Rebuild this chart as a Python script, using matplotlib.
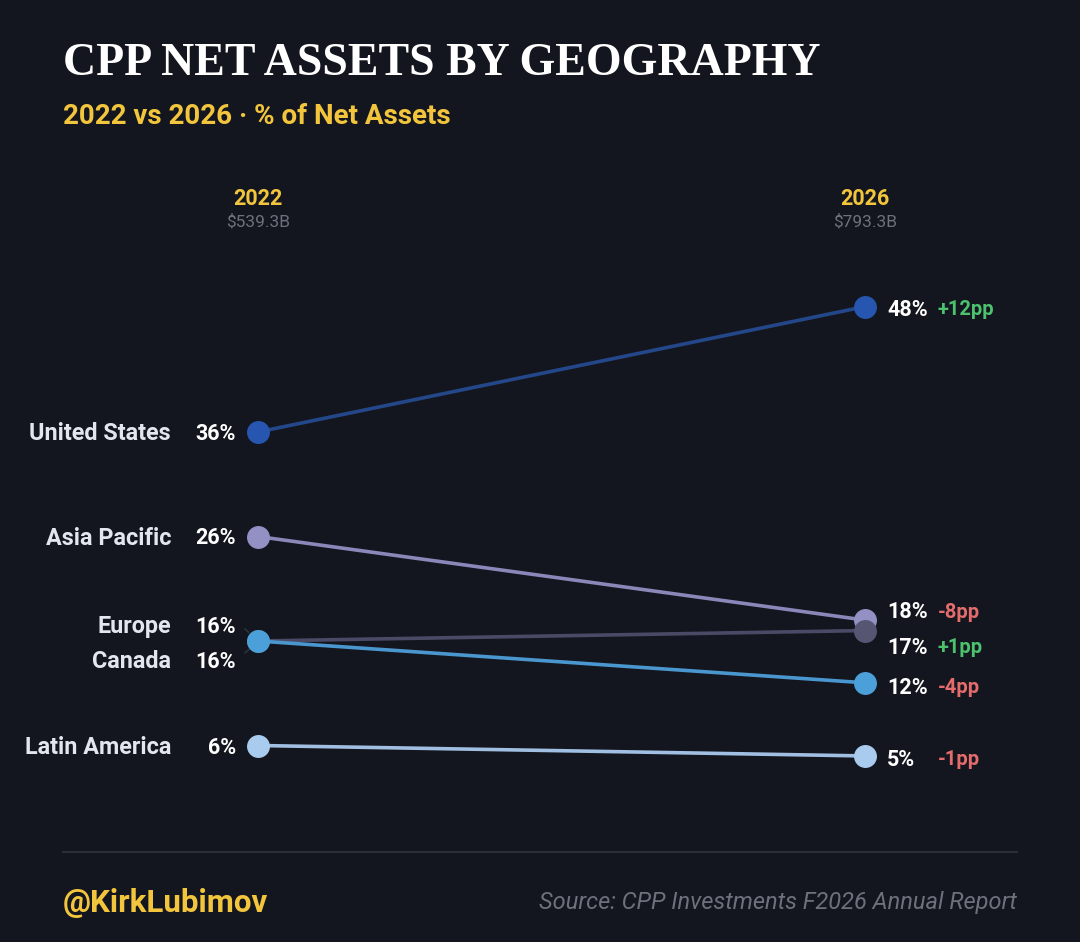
import matplotlib
matplotlib.use("Agg")
import matplotlib.pyplot as plt
from matplotlib import transforms

# ---------------- data ----------------
years = ["2022", "2026"]
totals = ["$539.3B", "$793.3B"]
regions = ["United States", "Asia Pacific", "Europe", "Canada", "Latin America"]
share_2022 = [36, 26, 16, 16, 6]
share_2026 = [48, 18, 17, 12, 5]
change_pp = [12, -8, 1, -4, -1]

title = "CPP NET ASSETS BY GEOGRAPHY"
subtitle = "2022 vs 2026 \u00b7 % of Net Assets"
handle = "@KirkLubimov"
source = "Source: CPP Investments F2026 Annual Report"

# ---------------- style ----------------
BG = "#13161e"
YELLOW = "#f2c53d"
GRAY = "#6d717d"
line_colors = ["#24478a", "#8a87b9", "#4a4a66", "#4a97cf", "#a0bfe2"]
marker_colors = ["#2656b0", "#9391c4", "#565673", "#4ca0da", "#a9cbee"]
# vertical label nudges in pixels (positive = down)
left_nudge = [2, 2, -14, 21, 2]
right_nudge = [3, -8, 17, 5, 4]

W, H = 1080, 942
fig = plt.figure(figsize=(W / 100, H / 100), dpi=100, facecolor=BG)
ax = fig.add_axes([0, 0, 1, 1])
ax.set_facecolor(BG)
ax.axis("off")

# pixel geometry of the slope chart
x0px, x1px = 258, 865
px_per_x = x1px - x0px
y36px, px_per_pp = 432, 10.45
ax.set_xlim(-x0px / px_per_x, (W - x0px) / px_per_x)
ax.set_ylim(36 - (H - y36px) / px_per_pp, 36 + y36px / px_per_pp)

FONT = "Roboto"

def px_offset(dx, dy):
    # dx, dy in pixels (dy positive = down)
    return transforms.offset_copy(ax.transData, fig=fig, x=dx * 0.72, y=-dy * 0.72, units="points")

for i, r in enumerate(regions):
    a, b = share_2022[i], share_2026[i]
    ax.plot([0, 1], [a, b], color=line_colors[i], lw=2.6, solid_capstyle="round", zorder=2 + i)
    ax.plot([0, 1], [a, b], ls="none", marker="o", ms=15.5, mfc=marker_colors[i],
            mec=marker_colors[i], zorder=3 + i)

    # left labels
    ln = left_nudge[i]
    ax.text(0, a, r, transform=px_offset(-87, ln), ha="right", va="center",
            fontsize=16.8, fontweight="bold", color="#e3e6ee", family=FONT)
    ax.text(0, a, f"{a}%", transform=px_offset(-22, ln), ha="right", va="center",
            fontsize=15.5, fontweight="bold", color="white", family=FONT)
    if abs(ln) > 5:
        sgn = 1 if ln > 0 else -1
        ax.annotate("", xy=(0, a), xycoords="data",
                    xytext=(-13 * 0.72, -sgn * 12 * 0.72), textcoords="offset points",
                    arrowprops=dict(arrowstyle="-", color="#2c3340", lw=1.2,
                                    shrinkA=0, shrinkB=9))

    # right labels
    rn = right_nudge[i]
    ax.text(1, b, f"{b}%", transform=px_offset(22, rn), ha="left", va="center",
            fontsize=15.5, fontweight="bold", color="white", family=FONT)
    c = change_pp[i]
    ax.text(1, b, f"{c:+d}pp", transform=px_offset(73, rn),
            ha="left", va="center", fontsize=14.5, fontweight="bold",
            color="#4cc26e" if c > 0 else "#e46c6c", family=FONT)

# column headers
hdr = transforms.blended_transform_factory(ax.transData, fig.transFigure)
for j, (yr, tot) in enumerate(zip(years, totals)):
    ax.text(j, 1 - 199 / H, yr, transform=hdr, ha="center", va="center", fontsize=15.5,
            fontweight="bold", color=YELLOW, family=FONT)
    ax.text(j, 1 - 222 / H, tot, transform=hdr, ha="center", va="center", fontsize=12.5,
            color=GRAY, family=FONT)

# title & subtitle
fig.text(63 / W, 1 - 64 / H, title, ha="left", va="center", fontsize=33, fontweight="bold",
         color="white", family="Liberation Serif")
fig.text(63 / W, 1 - 117 / H, subtitle, ha="left", va="center", fontsize=20, fontweight="bold",
         color=YELLOW, family=FONT)

# footer
fig.add_artist(plt.Line2D([63 / W, 1017 / W], [1 - 852 / H, 1 - 852 / H],
                          transform=fig.transFigure, color="#2a2e38", lw=1.5))
fig.text(63 / W, 1 - 903 / H, handle, ha="left", va="center", fontsize=22.5, fontweight="bold",
         color=YELLOW, family=FONT)
fig.text(1017 / W, 1 - 903 / H, source, ha="right", va="center", fontsize=17, style="italic",
         color=GRAY, family=FONT)

fig.savefig("out.png", dpi=100, facecolor=BG)
